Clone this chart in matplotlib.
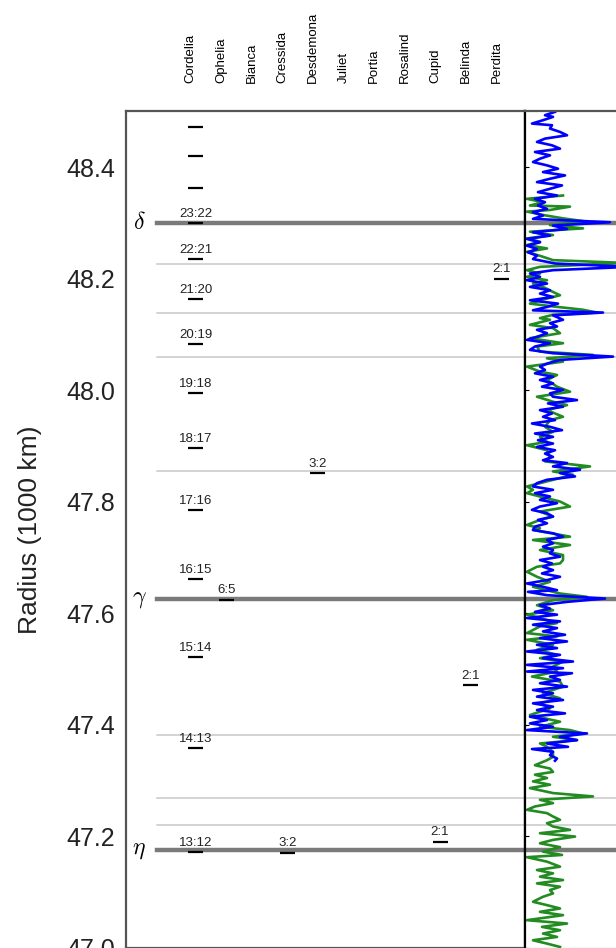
import numpy as np
import matplotlib
matplotlib.use('Agg')
from matplotlib import pyplot as plt

plt.rcParams['font.family'] = ['Liberation Sans', 'DejaVu Sans']
plt.rcParams['mathtext.fontset'] = 'cm'

# moons, in column order
moons = ['Cordelia', 'Ophelia', 'Bianca', 'Cressida', 'Desdemona', 'Juliet',
         'Portia', 'Rosalind', 'Cupid', 'Belinda', 'Perdita']

# resonance locations (1000 km)
res_moon = ['Cordelia'] * 14 + ['Ophelia', 'Cressida', 'Desdemona', 'Cupid', 'Belinda', 'Perdita']
res_r = [48.471, 48.419, 48.363, 48.300, 48.235, 48.163, 48.083, 47.995, 47.896,
         47.785, 47.661, 47.521, 47.358, 47.171, 47.624, 47.170, 47.851, 47.190,
         47.470, 48.200]
res_label = ['', '', '', '23:22', '22:21', '21:20', '20:19', '19:18', '18:17', '17:16',
             '16:15', '15:14', '14:13', '13:12', '6:5', '3:2', '3:2', '2:1', '2:1', '2:1']

# main rings and other features
ring_names = [r'$\delta$', r'$\gamma$', r'$\eta$']
ring_r = [48.300, 47.626, 47.175]
feature_r = [48.226, 48.139, 48.060, 47.854, 47.381, 47.269, 47.219]

yticks = [47.0, 47.2, 47.4, 47.6, 47.8, 48.0, 48.2, 48.4]

# occultation profiles (radius, normalised signal)
blue_r = [48.499, 48.493, 48.490, 48.484, 48.478, 48.475, 48.469, 48.463, 48.457, 48.451,
          48.445, 48.439, 48.433, 48.427, 48.421, 48.415, 48.409, 48.403, 48.397, 48.391,
          48.385, 48.379, 48.373, 48.367, 48.361, 48.355, 48.349, 48.343, 48.337, 48.331,
          48.325, 48.319, 48.313, 48.307, 48.301, 48.295, 48.289, 48.283, 48.277, 48.271,
          48.265, 48.259, 48.253, 48.247, 48.241, 48.235, 48.227, 48.221, 48.215, 48.209,
          48.203, 48.197, 48.191, 48.185, 48.179, 48.173, 48.167, 48.161, 48.155, 48.149,
          48.143, 48.139, 48.134, 48.126, 48.120, 48.114, 48.108, 48.102, 48.096, 48.090,
          48.084, 48.078, 48.072, 48.066, 48.060, 48.054, 48.048, 48.042, 48.036, 48.030,
          48.024, 48.018, 48.012, 48.006, 48.000, 47.994, 47.988, 47.982, 47.976, 47.970,
          47.964, 47.958, 47.952, 47.946, 47.940, 47.934, 47.928, 47.922, 47.916, 47.910,
          47.904, 47.898, 47.892, 47.886, 47.880, 47.874, 47.869, 47.863, 47.857, 47.851,
          47.845, 47.839, 47.833, 47.827, 47.821, 47.815, 47.809, 47.803, 47.797, 47.791,
          47.785, 47.779, 47.773, 47.767, 47.761, 47.755, 47.749, 47.743, 47.737, 47.731,
          47.725, 47.719, 47.713, 47.707, 47.701, 47.695, 47.689, 47.683, 47.677, 47.671,
          47.665, 47.659, 47.653, 47.647, 47.641, 47.638, 47.632, 47.626, 47.620, 47.614,
          47.608, 47.602, 47.597, 47.591, 47.585, 47.579, 47.573, 47.567, 47.561, 47.555,
          47.549, 47.543, 47.537, 47.531, 47.525, 47.519, 47.513, 47.507, 47.501, 47.495,
          47.492, 47.486, 47.480, 47.474, 47.468, 47.462, 47.456, 47.450, 47.444, 47.438,
          47.432, 47.426, 47.420, 47.414, 47.408, 47.402, 47.396, 47.390, 47.384, 47.378,
          47.372, 47.366, 47.360, 47.356, 47.351, 47.345, 47.339, 47.335]
blue_v = [30, 20, 28, 18, 7, 27, 25, 35, 42, 20,
          12, 27, 35, 10, 25, 15, 8, 22, 33, 18,
          40, 25, 12, 37, 25, 13, 32, 10, 20, 13,
          22, 8, 18, 8, 85, 28, 42, 8, 25, 2,
          15, 2, 12, 3, 12, 8, 30, 105, 28, 5,
          15, 2, 22, 5, 25, 15, 28, 5, 33, 22,
          8, 78, 28, 38, 25, 32, 12, 22, 13, 2,
          25, 10, 5, 28, 88, 35, 23, 15, 20, 10,
          28, 15, 28, 17, 38, 25, 28, 52, 23, 38,
          15, 27, 18, 30, 7, 25, 37, 10, 28, 13,
          28, 12, 30, 20, 28, 18, 42, 28, 55, 35,
          50, 22, 12, 8, 28, 10, 25, 15, 32, 15,
          7, 22, 28, 13, 22, 10, 8, 28, 38, 22,
          28, 18, 28, 25, 35, 15, 27, 18, 28, 17,
          35, 22, 2, 18, 32, 3, 22, 80, 42, 15,
          25, 10, 32, 2, 35, 8, 32, 18, 40, 15,
          42, 12, 32, 2, 35, 18, 48, 2, 38, 2,
          47, 25, 35, 15, 42, 8, 28, 12, 38, 8,
          28, 12, 40, 5, 22, 5, 28, 2, 62, 35,
          52, 22, 43, 7, 28, 25, 32, 30]

green_r = [48.349, 48.343, 48.337, 48.331, 48.329, 48.323, 48.320, 48.314, 48.308, 48.302,
           48.296, 48.290, 48.284, 48.278, 48.272, 48.266, 48.260, 48.254, 48.248, 48.239,
           48.233, 48.228, 48.221, 48.215, 48.209, 48.203, 48.197, 48.191, 48.185, 48.176,
           48.170, 48.161, 48.155, 48.150, 48.144, 48.139, 48.135, 48.129, 48.126, 48.117,
           48.111, 48.102, 48.093, 48.084, 48.078, 48.069, 48.063, 48.057, 48.051, 48.042,
           48.033, 48.027, 48.018, 48.006, 47.997, 47.988, 47.979, 47.973, 47.964, 47.952,
           47.946, 47.934, 47.925, 47.916, 47.907, 47.901, 47.892, 47.880, 47.872, 47.863,
           47.854, 47.848, 47.839, 47.833, 47.827, 47.821, 47.815, 47.809, 47.800, 47.791,
           47.782, 47.773, 47.767, 47.758, 47.752, 47.749, 47.737, 47.731, 47.722, 47.713,
           47.704, 47.695, 47.689, 47.683, 47.674, 47.665, 47.656, 47.647, 47.635, 47.629,
           47.623, 47.614, 47.605, 47.597, 47.591, 47.582, 47.576, 47.564, 47.558, 47.552,
           47.543, 47.534, 47.525, 47.519, 47.513, 47.504, 47.495, 47.486, 47.477, 47.468,
           47.456, 47.447, 47.438, 47.429, 47.417, 47.405, 47.396, 47.390, 47.384, 47.378,
           47.372, 47.366, 47.360, 47.351, 47.342, 47.336, 47.327, 47.321, 47.315, 47.310,
           47.304, 47.298, 47.292, 47.286, 47.277, 47.271, 47.265, 47.259, 47.253, 47.247,
           47.241, 47.235, 47.229, 47.223, 47.217, 47.211, 47.205, 47.199, 47.193, 47.187,
           47.180, 47.172, 47.166, 47.162, 47.154, 47.145, 47.139, 47.133, 47.127, 47.121,
           47.115, 47.109, 47.103, 47.097, 47.091, 47.082, 47.076, 47.070, 47.064, 47.058,
           47.049, 47.043, 47.037, 47.031, 47.025, 47.019, 47.013, 47.007, 47.001]
green_v = [38, 2, 18, 5, 45, 25, 2, 18, 38, 62,
           25, 58, 5, 28, 2, 15, 2, 22, 2, 18,
           28, 100, 15, 2, 15, 2, 22, 8, 18, 28,
           35, 15, 5, 28, 58, 72, 28, 15, 25, 5,
           28, 35, 5, 38, 12, 15, 68, 22, 38, 2,
           15, 32, 22, 32, 45, 12, 28, 42, 22, 38,
           25, 20, 28, 15, 22, 2, 22, 25, 20, 65,
           28, 48, 28, 15, 2, 8, 2, 15, 35, 45,
           15, 28, 15, 2, 15, 8, 45, 8, 45, 15,
           38, 38, 35, 12, 2, 12, 25, 8, 35, 62,
           28, 12, 28, 2, 15, 32, 15, 2, 32, 2,
           28, 12, 32, 15, 38, 28, 32, 7, 35, 38,
           18, 35, 15, 25, 5, 35, 15, 45, 58, 28,
           52, 15, 22, 28, 28, 22, 10, 25, 28, 10,
           22, 8, 25, 5, 28, 68, 15, 28, 10, 2,
           22, 28, 35, 22, 28, 45, 15, 50, 28, 15,
           35, 18, 37, 2, 22, 35, 12, 28, 15, 38,
           12, 35, 25, 28, 18, 8, 22, 35, 15, 38,
           2, 42, 17, 35, 18, 32, 8, 22, 35]

fig = plt.figure(figsize=(6.16, 9.48), dpi=100)
ax = fig.add_axes([126 / 616, 0.5 / 948, 399 / 616, 836.2 / 948])
ax2 = fig.add_axes([525 / 616, 0.5 / 948, 200 / 616, 836.2 / 948], sharey=ax)

ax.set_xlim(-2.275, 10.78)
ax.set_ylim(47.0, 48.5)
ax2.set_xlim(0, 200)

# ring features
for r in feature_r:
    ax.axhline(r, xmin=0.077, color='#c8c8c8', lw=1.1, zorder=1)
    ax2.axhline(r, color='#c8c8c8', lw=1.1, zorder=1)
for name, r in zip(ring_names, ring_r):
    ax.axhline(r, xmin=0.077, color='#7a7a7a', lw=3.2, zorder=1)
    ax2.axhline(r, color='#7a7a7a', lw=3.2, zorder=1)
    ax.text(-1.85, r, name, fontsize=17, ha='center', va='center')

# resonances
xs = np.array([moons.index(m) for m in res_moon])
ax.hlines(res_r, xs - 0.245, xs + 0.245, color='k', lw=1.6, zorder=3)
for x, r, lab in zip(xs, res_r, res_label):
    if lab:
        ax.annotate(lab, (x, r), xytext=(0, 4.5), textcoords='offset points',
                    ha='center', va='baseline', fontsize=9.5, color='#222222')

# moon names above the panel
trans = ax.get_xaxis_transform()
for i, m in enumerate(moons):
    ax.text(i - 0.154, 1.0338, m, rotation=90, ha='center', va='bottom',
            fontsize=9.5, transform=trans)

ax.set_xticks([])
ax.set_yticks(yticks)
ax.set_yticklabels(['%.1f' % t for t in yticks])
ax.tick_params(axis='y', length=0, pad=8, labelsize=18, labelcolor='#222222')
ax.set_ylabel('Radius (1000 km)', fontsize=19, color='#222222')
ax.yaxis.set_label_coords(-0.211, 0.5)
for s in ['left', 'top', 'bottom']:
    ax.spines[s].set_color('#555555')
    ax.spines[s].set_linewidth(1.6)
ax.spines['right'].set_color('k')
ax.spines['right'].set_linewidth(1.6)

# profiles
ax2.plot(green_v, green_r, color='forestgreen', lw=1.9, zorder=2)
ax2.plot(blue_v, blue_r, color='blue', lw=1.9, zorder=2)
ax2.set_xticks([])
ax2.tick_params(axis='y', direction='in', length=3, labelleft=False)
ax2.spines['left'].set_color('k')
ax2.spines['left'].set_linewidth(1.6)
ax2.spines['top'].set_color('#555555')
ax2.spines['top'].set_linewidth(1.6)
ax2.spines['bottom'].set_color('#555555')
ax2.spines['right'].set_visible(False)

fig.savefig('out.png', dpi=100)
